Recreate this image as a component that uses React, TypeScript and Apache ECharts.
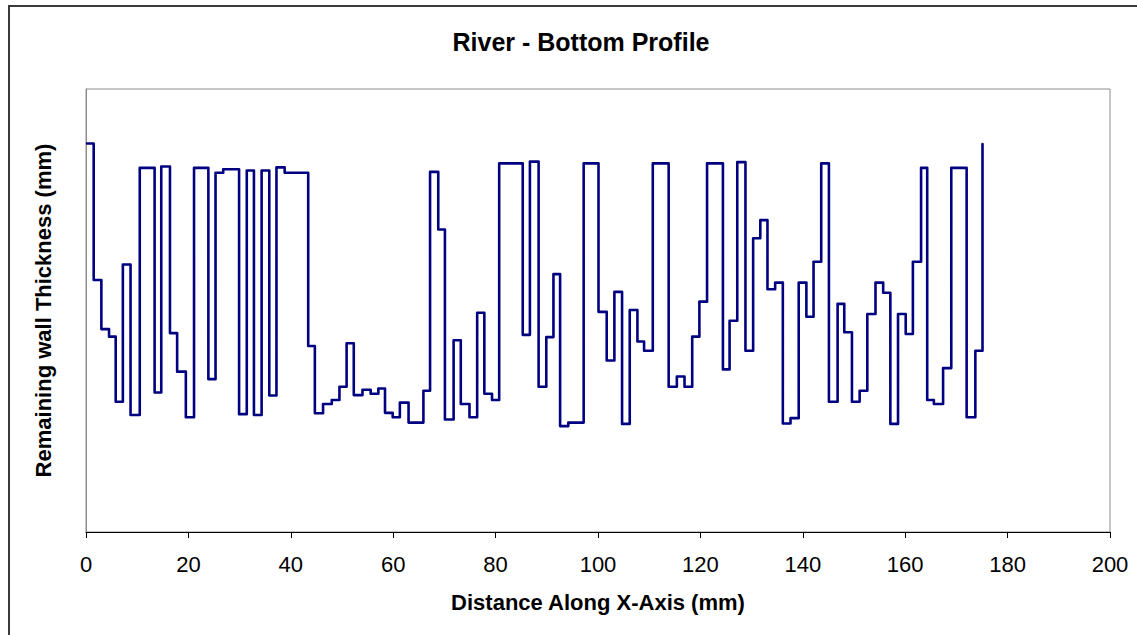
import React, { useEffect, useRef } from "react";
import * as echarts from "echarts";

// Distance (mm) at which each level of the step profile begins
const stepX: number[] = [
  0.2, 1.5, 3.0, 4.5, 5.8, 7.2, 8.7, 10.5, 13.4, 14.7,
  16.4, 17.8, 19.5, 21.1, 23.9, 25.3, 26.8, 29.9, 31.4, 32.8,
  34.3, 35.8, 37.2, 38.8, 43.4, 44.7, 46.3, 48.0, 49.5, 50.9,
  52.3, 54.0, 55.6, 57.1, 58.4, 59.9, 61.3, 63.0, 65.9, 67.2,
  68.8, 70.1, 71.8, 73.2, 74.9, 76.4, 77.8, 79.3, 80.7, 85.3,
  86.7, 88.4, 89.9, 91.3, 92.6, 94.2, 97.2, 100.1, 101.7, 103.2,
  104.7, 106.2, 107.7, 109.0, 110.7, 113.8, 115.4, 116.9, 118.4, 119.8,
  121.3, 124.4, 125.7, 127.2, 128.8, 130.3, 131.7, 133.1, 134.6, 136.1,
  137.6, 139.2, 140.7, 142.1, 143.6, 145.1, 146.8, 148.1, 149.6, 151.1,
  152.6, 154.2, 155.7, 157.1, 158.6, 160.1, 161.5, 163.1, 164.3, 165.6,
  167.4, 169.0, 172.0, 173.7, 175.1,
];

// Remaining wall thickness (mm) for each level
const thickness: number[] = [
  8.77, 5.69, 4.58, 4.41, 2.94, 6.04, 2.64, 8.22, 3.15, 8.25,
  4.49, 3.62, 2.59, 8.22, 3.45, 8.11, 8.19, 2.66, 8.16, 2.64,
  8.16, 3.08, 8.23, 8.11, 4.20, 2.68, 2.89, 2.98, 3.28, 4.26,
  3.09, 3.21, 3.12, 3.24, 2.69, 2.59, 2.92, 2.47, 3.19, 8.13,
  6.83, 2.54, 4.33, 2.89, 2.59, 4.95, 3.12, 2.98, 8.32, 4.45,
  8.36, 3.28, 4.40, 5.82, 2.39, 2.47, 8.32, 4.97, 3.87, 5.42,
  2.44, 5.01, 4.30, 4.09, 8.32, 3.28, 3.51, 3.28, 4.41, 5.20,
  8.32, 3.67, 4.77, 8.35, 4.09, 6.63, 7.04, 5.48, 5.63, 2.45,
  2.57, 5.63, 4.86, 6.10, 8.32, 2.94, 5.15, 4.51, 2.94, 3.19,
  4.92, 5.63, 5.40, 2.44, 4.92, 4.47, 6.10, 8.22, 2.98, 2.89,
  3.70, 8.22, 2.59, 4.09, 8.76,
];

const xTicks = { min: 0, max: 200, interval: 20 };

const FONT = "'Liberation Sans', Arial, Helvetica, sans-serif";

export default function App() {
  const ref = useRef<HTMLDivElement>(null);

  useEffect(() => {
    if (!ref.current) return;
    const chart = echarts.init(ref.current, undefined, { renderer: "svg" });
    const data = stepX.map((x, i) => [x, thickness[i]]);
    chart.setOption({
      animation: false,
      backgroundColor: "#ffffff",
      textStyle: { fontFamily: FONT },
      title: {
        text: "River - Bottom Profile",
        left: 576,
        top: 24,
        textAlign: "center",
        textStyle: { fontFamily: FONT, fontSize: 25, fontWeight: "bold", color: "#000" },
      },
      graphic: [
        {
          type: "rect",
          shape: { x: 9, y: 6, width: 1200, height: 700 },
          style: { fill: "none", stroke: "#3a3a3a", lineWidth: 2 },
          silent: true,
        },
      ],
      grid: {
        left: 86,
        top: 89,
        right: 27,
        bottom: 103,
        show: true,
        borderColor: "#8c8c8c",
        borderWidth: 1,
        backgroundColor: "#ffffff",
      },
      xAxis: {
        type: "value",
        min: xTicks.min,
        max: xTicks.max,
        interval: xTicks.interval,
        name: "Distance Along X-Axis (mm)",
        nameLocation: "middle",
        nameGap: 59,
        nameTextStyle: { fontFamily: FONT, fontSize: 22, fontWeight: "bold", color: "#000" },
        axisLine: { show: true, lineStyle: { color: "#000", width: 1 } },
        axisTick: { show: true, inside: false, length: 6, lineStyle: { color: "#000" } },
        axisLabel: { fontFamily: FONT, fontSize: 22, color: "#000", margin: 21 },
        splitLine: { show: false },
      },
      yAxis: {
        type: "value",
        min: 0,
        max: 10,
        name: "Remaining wall Thickness (mm)",
        nameLocation: "middle",
        nameRotate: 90,
        nameGap: 32,
        nameTextStyle: { fontFamily: FONT, fontSize: 22, fontWeight: "bold", color: "#000" },
        axisLine: { show: true, lineStyle: { color: "#8c8c8c", width: 1 } },
        axisTick: { show: false },
        axisLabel: { show: false },
        splitLine: { show: false },
      },
      series: [
        {
          type: "line",
          step: "end",
          data,
          showSymbol: false,
          symbol: "none",
          lineStyle: { color: "#000080", width: 2.6, join: "round", cap: "round" },
          itemStyle: { color: "#000080" },
        },
      ],
    });
    return () => chart.dispose();
  }, []);

  return (
    <div
      ref={ref}
      style={{ position: "fixed", left: 0, top: 0, width: 1137, height: 635 }}
    />
  );
}
